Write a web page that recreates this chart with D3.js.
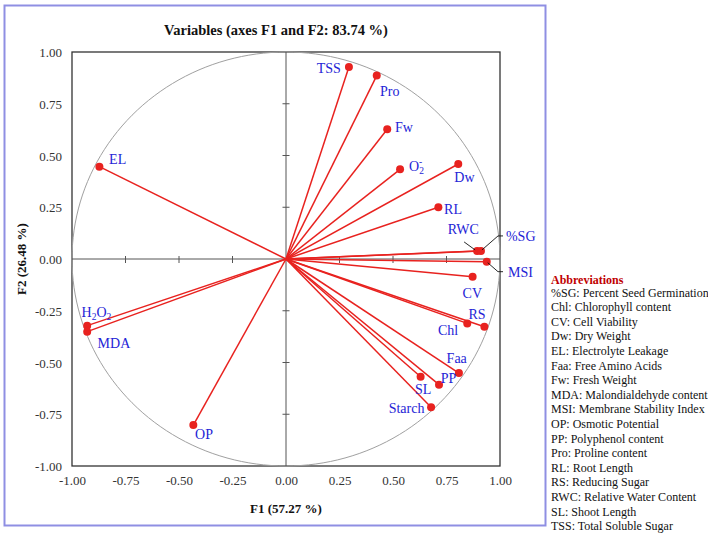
<!DOCTYPE html>
<html><head><meta charset="utf-8">
<script src="https://cdn.jsdelivr.net/npm/d3@7"></script>
<style>
body{margin:0;background:#fff;}
svg{display:block;font-family:"Liberation Serif","Times New Roman",serif;}
</style></head>
<body>
<svg id="chart" width="708" height="535"></svg>
<script>
// ---- data ----
const variables = ["TSS","Pro","Fw","O2","Dw","RL","RWC","%SG","MSI","CV","RS","Chl","Faa","PP","SL","Starch","EL","H2O2","MDA","OP"];
const f1Values = [0.294,0.424,0.473,0.533,0.805,0.712,0.893,0.911,0.938,0.872,0.927,0.847,0.808,0.715,0.629,0.678,-0.872,-0.929,-0.929,-0.433];
const f2Values = [0.928,0.886,0.627,0.433,0.459,0.250,0.039,0.039,-0.013,-0.086,-0.327,-0.311,-0.551,-0.607,-0.569,-0.716,0.446,-0.322,-0.351,-0.802];
const tickValues = [-1,-0.75,-0.5,-0.25,0,0.25,0.5,0.75,1];
const titleText = "Variables (axes F1 and F2: 83.74 %)";
const xTitle = "F1 (57.27 %)";
const yTitle = "F2 (26.48 %)";
const legendTitle = "Abbreviations";
const abbreviations = ["%SG: Percent Seed Germination","Chl: Chlorophyll content","CV: Cell Viability","Dw: Dry Weight","EL: Electrolyte Leakage","Faa: Free Amino Acids","Fw: Fresh Weight","MDA: Malondialdehyde content","MSI: Membrane Stability Index","OP: Osmotic Potential","PP: Polyphenol content","Pro: Proline content","RL: Root Length","RS: Reducing Sugar","RWC: Relative Water Content","SL: Shoot Length","TSS: Total Soluble Sugar"];

// ---- label placement (layout only) ----
const labelPlace = {
  "TSS":["end",-8,0.7],"Pro":["start",3.3,15],"Fw":["start",7.7,-2.6],"O2":["start",9,-3.3],
  "Dw":["start",-4,13.3],"RL":["start",5.7,1.7],"RWC":["start",-29.3,-22],"%SG":["start",25,-15],
  "MSI":["start",21.3,10],"CV":["start",-10,16.6],"RS":["start",-16,-12.7],"Chl":["end",-9,6.7],
  "Faa":["start",-12.3,-14.7],"PP":["start",1.7,-6.4],"SL":["start",-5.7,12.3],"Starch":["end",-6.7,0.4],
  "EL":["start",9.7,-7.7],"H2O2":["start",-5.6,-14],"MDA":["start",10.4,11.6],"OP":["start",1.7,9]
};

const svg = d3.select("#chart");
const L = 72, R = 500, T = 52, B = 466;
const x = d3.scaleLinear().domain([-1,1]).range([L,R]);
const y = d3.scaleLinear().domain([-1,1]).range([B,T]);

// outer blue frame
svg.append("rect").attr("x",4.5).attr("y",5.5).attr("width",541).attr("height",520)
  .attr("fill","none").attr("stroke","#8f8fe3").attr("stroke-width",2);

// title
svg.append("text").attr("x",276).attr("y",35).attr("text-anchor","middle")
  .attr("font-weight","bold").attr("font-size",14.5).attr("fill","#111").text(titleText);

// plot frame
svg.append("rect").attr("x",L).attr("y",T).attr("width",R-L).attr("height",B-T)
  .attr("fill","none").attr("stroke","#333").attr("stroke-width",1.3);

// unit circle (ellipse in pixel space)
const circ = d3.range(0,361,2).map(a=>[Math.cos(a*Math.PI/180),Math.sin(a*Math.PI/180)]);
svg.append("path").attr("d",d3.line().x(d=>x(d[0])).y(d=>y(d[1]))(circ))
  .attr("fill","none").attr("stroke","#a0a0a0").attr("stroke-width",1);

// center axes
svg.append("line").attr("x1",x(-1)).attr("x2",x(1)).attr("y1",y(0)).attr("y2",y(0)).attr("stroke","#555").attr("stroke-width",1);
svg.append("line").attr("x1",x(0)).attr("x2",x(0)).attr("y1",y(-1)).attr("y2",y(1)).attr("stroke","#555").attr("stroke-width",1);
// cross ticks on center axes
tickValues.filter(v=>Math.abs(v)<1 && v!==0).forEach(v=>{
  svg.append("line").attr("x1",x(v)).attr("x2",x(v)).attr("y1",y(0)-3).attr("y2",y(0)+4).attr("stroke","#555");
  svg.append("line").attr("x1",x(0)-3.5).attr("x2",x(0)+3.5).attr("y1",y(v)).attr("y2",y(v)).attr("stroke","#555");
});

// tick labels via axes
const xAxis = d3.axisBottom(x).tickValues(tickValues).tickFormat(d3.format(".2f")).tickSize(0).tickPadding(0);
const gx = svg.append("g").attr("transform",`translate(0,${B+10})`).call(xAxis);
const yAxis = d3.axisLeft(y).tickValues(tickValues).tickFormat(d3.format(".2f")).tickSize(0).tickPadding(0);
const gy = svg.append("g").attr("transform",`translate(${L-10},0)`).call(yAxis);
[gx,gy].forEach(g=>{
  g.select(".domain").remove();
  g.selectAll("text").attr("font-family","Liberation Serif, Times New Roman, serif")
    .attr("font-size",13).attr("fill","#333");
});
gx.selectAll("text").attr("dy","0.71em");
gy.selectAll("text").attr("dy","0.35em");
gx.selectAll("text").text(d=>d3.format(".2f")(d).replace("−","-"));
gy.selectAll("text").text(d=>d3.format(".2f")(d).replace("−","-"));

// axis titles
svg.append("text").attr("x",x(0)).attr("y",513).attr("text-anchor","middle")
  .attr("font-weight","bold").attr("font-size",13).attr("fill","#111").text(xTitle);
svg.append("text").attr("transform",`translate(26,${y(0)}) rotate(-90)`).attr("text-anchor","middle")
  .attr("font-weight","bold").attr("font-size",13).attr("fill","#111").text(yTitle);

// vectors
const data = variables.map((n,i)=>({name:n,f1:f1Values[i],f2:f2Values[i]}));
svg.append("g").selectAll("line").data(data).join("line")
  .attr("x1",x(0)).attr("y1",y(0)).attr("x2",d=>x(d.f1)).attr("y2",d=>y(d.f2))
  .attr("stroke","#e8221f").attr("stroke-width",1.5);
svg.append("g").selectAll("circle").data(data).join("circle")
  .attr("cx",d=>x(d.f1)).attr("cy",d=>y(d.f2)).attr("r",4).attr("fill","#e8221f");

// leader lines
const byName = Object.fromEntries(data.map(d=>[d.name,d]));
const leader = (pts)=>svg.append("path").attr("d",d3.line()(pts)).attr("fill","none").attr("stroke","#111").attr("stroke-width",0.9);
{
  const r = byName["RWC"], s = byName["%SG"], m = byName["MSI"];
  leader([[x(r.f1)-13,y(r.f2)-9],[x(r.f1)-2,y(r.f2)-1]]);
  leader([[x(s.f1)+1,y(s.f2)-1],[498,y(s.f2)-15],[503,y(s.f2)-15]]);
  leader([[x(m.f1)+1,y(m.f2)+1],[498,y(m.f2)+10],[503,y(m.f2)+10]]);
}

// labels
const lg = svg.append("g").attr("fill","#2424d6").attr("font-size",14);
data.forEach(d=>{
  const p = labelPlace[d.name];
  const t = lg.append("text").attr("text-anchor",p[0])
    .attr("x",x(d.f1)+p[1]).attr("y",y(d.f2)+p[2]+5);
  if(d.name==="H2O2"){
    t.append("tspan").text("H");
    t.append("tspan").attr("font-size",9.5).attr("dy",3).text("2");
    t.append("tspan").attr("dy",-3).text("O");
    t.append("tspan").attr("font-size",9.5).attr("dy",3).text("2");
  } else if(d.name==="O2"){
    t.append("tspan").text("O");
    t.append("tspan").attr("font-size",9.5).attr("dy",3).text("2");
    t.append("tspan").attr("font-size",9.5).attr("dx",-5).attr("dy",-9).text("-");
  } else {
    t.text(d.name);
  }
});

// abbreviations legend
svg.append("text").attr("x",551).attr("y",283.5).attr("font-weight","bold").attr("font-size",12)
  .attr("fill","#c00000").text(legendTitle);
svg.append("g").selectAll("text").data(abbreviations).join("text")
  .attr("x",551).attr("y",(d,i)=>296.5+i*14.6).attr("font-size",12).attr("fill","#111").text(d=>d);
</script>
</body></html>
